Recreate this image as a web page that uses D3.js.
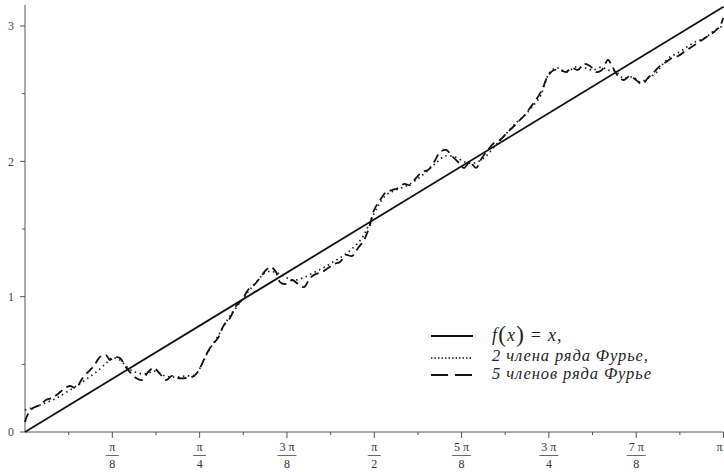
<!DOCTYPE html>
<html><head><meta charset="utf-8">
<script src="https://cdn.jsdelivr.net/npm/d3@7"></script>
<style>body{margin:0;background:#fff}svg{display:block}</style>
</head><body>
<svg id="c" width="724" height="472"></svg>
<script>
// ---- data ----
const xTickValues = [1,2,3,4,5,6,7,8].map(k => k*Math.PI/8);
const xTickNum = ["π","π","3 π","π","5 π","3 π","7 π","π"];
const xTickDen = ["8","4","8","2","8","4","8",""];
const yTickValues = [0,1,2,3];
const legendLabels = ["2 члена ряда Фурье,","5 членов ряда Фурье"];

// f(x) = x
const lineX = [0, Math.PI];
const lineY = [0, Math.PI];

// 2 terms (dotted)
const dotX = [0,0.045,0.09,0.135,0.18,0.225,0.27,0.315,0.36,0.391,0.427,0.463,0.495,0.54,0.585,0.63,0.675,0.72,0.765,0.787,0.823,0.868,0.913,0.958,1.003,1.048,1.084,1.124,1.16,1.205,1.25,1.295,1.34,1.385,1.43,1.475,1.516,1.552,1.588,1.624,1.669,1.714,1.759,1.804,1.849,1.889,1.934,1.979,2.024,2.069,2.114,2.159,2.213,2.249,2.28,2.316,2.339,2.361,2.393,2.438,2.474,2.519,2.555,2.595,2.618,2.654,2.69,2.734,2.766,2.802,2.842,2.865,2.901,2.937,2.977,3.013,3.058,3.103,3.139];
const dotY = [0.163,0.185,0.214,0.244,0.288,0.333,0.384,0.436,0.5,0.547,0.532,0.473,0.443,0.43,0.45,0.414,0.406,0.414,0.421,0.473,0.591,0.709,0.835,0.938,1.035,1.123,1.182,1.182,1.153,1.123,1.138,1.175,1.212,1.256,1.301,1.36,1.434,1.552,1.67,1.751,1.788,1.818,1.862,1.921,1.988,2.039,2.032,1.995,1.988,2.032,2.113,2.195,2.291,2.342,2.402,2.475,2.579,2.66,2.69,2.66,2.697,2.69,2.675,2.697,2.675,2.668,2.616,2.623,2.586,2.616,2.66,2.712,2.771,2.801,2.845,2.882,2.911,2.971,3.0];

// 5 terms (dashed)
const dashX = [0,0.0135,0.036,0.0675,0.094,0.121,0.148,0.175,0.202,0.229,0.256,0.283,0.31,0.337,0.364,0.382,0.4,0.427,0.45,0.472,0.499,0.526,0.553,0.58,0.607,0.634,0.661,0.688,0.724,0.76,0.787,0.814,0.841,0.868,0.895,0.922,0.949,0.976,1.003,1.03,1.057,1.084,1.106,1.129,1.147,1.174,1.201,1.228,1.255,1.282,1.309,1.336,1.363,1.39,1.417,1.444,1.471,1.498,1.525,1.547,1.57,1.597,1.624,1.651,1.678,1.705,1.732,1.759,1.786,1.813,1.84,1.867,1.894,1.92,1.948,1.974,2.001,2.028,2.055,2.082,2.109,2.136,2.163,2.19,2.217,2.244,2.271,2.298,2.325,2.352,2.379,2.406,2.433,2.46,2.487,2.514,2.541,2.568,2.595,2.622,2.64,2.667,2.694,2.721,2.748,2.775,2.802,2.829,2.856,2.883,2.91,2.937,2.964,2.991,3.018,3.045,3.072,3.099,3.126,3.14];
const dashY = [0.074,0.133,0.177,0.2,0.236,0.251,0.281,0.318,0.34,0.325,0.392,0.443,0.488,0.554,0.569,0.532,0.554,0.547,0.488,0.443,0.399,0.384,0.443,0.473,0.429,0.384,0.414,0.399,0.399,0.414,0.473,0.569,0.643,0.695,0.791,0.842,0.931,0.975,1.049,1.086,1.138,1.197,1.219,1.182,1.108,1.094,1.123,1.094,1.071,1.138,1.168,1.182,1.212,1.241,1.256,1.308,1.301,1.36,1.419,1.507,1.64,1.714,1.773,1.788,1.803,1.833,1.825,1.877,1.921,1.936,1.995,2.069,2.084,2.039,1.995,1.951,1.995,1.951,2.025,2.084,2.136,2.158,2.202,2.246,2.291,2.335,2.394,2.453,2.527,2.631,2.675,2.675,2.66,2.69,2.675,2.719,2.705,2.66,2.675,2.749,2.705,2.631,2.601,2.631,2.601,2.571,2.616,2.66,2.705,2.734,2.764,2.778,2.808,2.838,2.867,2.897,2.926,2.956,3.0,3.059];

// ---- drawing ----
const svg = d3.select("#c");
const x = d3.scaleLinear().domain([0, Math.PI]).range([25, 723.5]);
const y = d3.scaleLinear().domain([0, 3]).range([432, 26]);
const axisColor = "#555";
const serif = "Liberation Serif, DejaVu Serif, Noto Serif, serif";

const xMinor = d3.range(1, 16, 2).map(k => k*Math.PI/16);
const yMinor = [0.5,1.5,2.5];

const gx = svg.append("g").attr("transform","translate(0,432)");
gx.append("line").attr("x1",x(0)).attr("x2",x(Math.PI)).attr("stroke",axisColor).attr("stroke-width",1);
gx.selectAll(".mj").data(xTickValues).join("line")
  .attr("x1",d=>x(d)).attr("x2",d=>x(d)).attr("y1",0).attr("y2",6)
  .attr("stroke",axisColor);
gx.selectAll(".mn").data(xMinor).join("line").attr("class","mn")
  .attr("x1",d=>x(d)).attr("x2",d=>x(d)).attr("y1",0).attr("y2",3)
  .attr("stroke",axisColor);

const gy = svg.append("g").attr("transform","translate(25,0)");
gy.append("line").attr("y1",y(0)).attr("y2",5).attr("stroke",axisColor);
gy.selectAll(".mj").data(yTickValues).join("line")
  .attr("x1",-5).attr("x2",0).attr("y1",d=>y(d)).attr("y2",d=>y(d)).attr("stroke",axisColor);
gy.selectAll(".mn").data(yMinor).join("line").attr("class","mn")
  .attr("x1",-3).attr("x2",0).attr("y1",d=>y(d)).attr("y2",d=>y(d)).attr("stroke",axisColor);
gy.selectAll("text").data(yTickValues).join("text")
  .attr("x",-11).attr("y",d=>y(d)).attr("dy","0.35em")
  .attr("text-anchor","end").attr("font-family",serif).attr("font-size",12).attr("fill","#444")
  .text(d=>d);

// fraction labels
const fl = svg.append("g");
xTickValues.forEach((v,i)=>{
  const cx = x(v) - (i===7 ? 4 : 0);
  fl.append("text").attr("x",cx).attr("y",451).attr("text-anchor","middle")
    .attr("font-family",serif).attr("font-size",12).attr("fill","#333").text(xTickNum[i]);
  if (xTickDen[i]) {
    const w = xTickNum[i].length>1 ? 19 : 13;
    fl.append("line").attr("x1",cx-w/2).attr("x2",cx+w/2).attr("y1",455.5).attr("y2",455.5)
      .attr("stroke","#444").attr("stroke-width",0.8);
    fl.append("text").attr("x",cx).attr("y",468).attr("text-anchor","middle")
      .attr("font-family",serif).attr("font-size",12).attr("fill","#333").text(xTickDen[i]);
  }
});

const line = d3.line().x(d=>x(d[0])).y(d=>y(d[1])).curve(d3.curveLinear);
const smooth = d3.line().x(d=>x(d[0])).y(d=>y(d[1])).curve(d3.curveCatmullRom.alpha(0.5));

svg.append("path").datum(d3.zip(dotX,dotY)).attr("d",smooth)
  .attr("fill","none").attr("stroke","#222").attr("stroke-width",1.7).attr("stroke-dasharray","1.5,3.5");
svg.append("path").datum(d3.zip(dashX,dashY)).attr("d",smooth)
  .attr("fill","none").attr("stroke","#111").attr("stroke-width",1.8).attr("stroke-dasharray","9,5");
svg.append("path").datum(d3.zip(lineX,lineY)).attr("d",line)
  .attr("fill","none").attr("stroke","#111").attr("stroke-width",1.8);

// legend
const lg = svg.append("g");
const rowsY = [336, 358, 375];
const styles = [null, "1.5,2", "17,7"];
rowsY.forEach((ry,i)=>{
  const l = lg.append("line").attr("x1",431).attr("x2",473).attr("y1",ry).attr("y2",ry)
    .attr("stroke","#111").attr("stroke-width",i===1?1.6:2);
  if (styles[i]) l.attr("stroke-dasharray",styles[i]);
});
const t1 = lg.append("text").attr("x",492).attr("y",341).attr("font-family",serif)
  .attr("font-size",18).attr("letter-spacing",1.2).attr("fill","#222");
t1.append("tspan").attr("font-style","italic").text("f");
t1.append("tspan").attr("font-size",23).attr("dy",1).text("(");
t1.append("tspan").attr("font-style","italic").attr("dy",-1).text("x");
t1.append("tspan").attr("font-size",23).attr("dy",1).text(")");
t1.append("tspan").attr("dy",-1).text(" = ");
t1.append("tspan").attr("font-style","italic").text("x");
t1.append("tspan").text(",");
legendLabels.forEach((s,i)=>{
  lg.append("text").attr("x",492).attr("y",[361,379][i]).attr("font-family",serif)
    .attr("font-style","italic").attr("font-size",16.5).attr("letter-spacing",0.9)
    .attr("fill","#222").text(s);
});
</script>
</body></html>
